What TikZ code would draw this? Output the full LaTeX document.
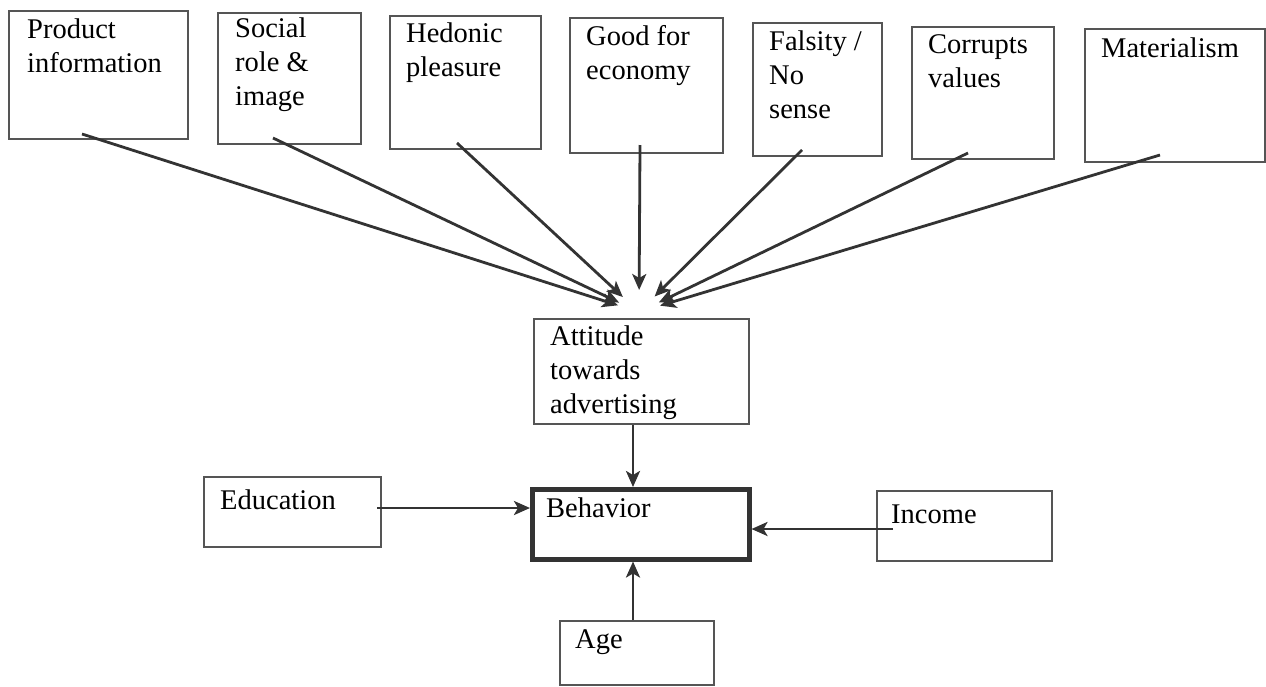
\documentclass[tikz,border=0pt]{standalone}
\usepackage{fontspec}
\setmainfont{Liberation Serif}
\usetikzlibrary{arrows.meta,calc}
\definecolor{boxc}{HTML}{555555}
\definecolor{linec}{HTML}{333333}
\begin{document}
\begin{tikzpicture}[x=1pt,y=-1pt,
  box/.style={draw=boxc, line width=1.5pt, rectangle, inner sep=0pt, anchor=north west},
  thickbox/.style={box, draw=linec, line width=4.5pt},
  txt/.style={anchor=north west, inner sep=0pt, align=left, font=\fontsize{28.5}{34}\selectfont, text=black},
  arr/.style={draw=linec, line width=2.8pt, -{Stealth[length=16pt,width=14pt,inset=4pt]}},
]
\useasboundingbox (0,0) rectangle (1266,686);
% top boxes
\node[box, minimum width=179pt, minimum height=128pt] (p1) at (8,10) {};
\node[box, minimum width=143pt, minimum height=131pt] (p2) at (217,12) {};
\node[box, minimum width=151pt, minimum height=133pt] (p3) at (389,15) {};
\node[box, minimum width=153pt, minimum height=135pt] (p4) at (569,17) {};
\node[box, minimum width=129pt, minimum height=133pt] (p5) at (752,22) {};
\node[box, minimum width=142pt, minimum height=132pt] (p6) at (911,26) {};
\node[box, minimum width=180pt, minimum height=133pt] (p7) at (1084,28) {};
% lower boxes
\node[box, minimum width=215pt, minimum height=105pt] (att) at (533,318) {};
\node[thickbox, minimum width=217pt, minimum height=70pt] (beh) at (530,487) {};
\node[box, minimum width=177pt, minimum height=70pt] (edu) at (203,476) {};
\node[box, minimum width=175pt, minimum height=70pt] (inc) at (876,490) {};
\node[box, minimum width=154pt, minimum height=64pt] (age) at (559,620) {};
% texts
\node[txt] (t1) at (27,14.2) {\strut Product\\information};
\node[txt] (t2) at (235,13.2) {\strut Social\\role \&\\image};
\node[txt] (t3) at (406,18.2) {\strut Hedonic\\pleasure};
\node[txt] (t4) at (586,21.2) {\strut Good for\\economy};
\node[txt] (t5) at (769,26.2) {\strut Falsity /\\No\\sense};
\node[txt] (t6) at (928,29.2) {\strut Corrupts\\values};
\node[txt] (t7) at (1101,33.2) {\strut Materialism};
\node[txt] (ta) at (550,321.2) {\strut Attitude\\towards\\advertising};
\node[txt] (tb) at (546,493.2) {\strut Behavior};
\node[txt] (te) at (220,485.2) {\strut Education};
\node[txt] (ti) at (891,499.2) {\strut Income};
\node[txt] (tg) at (575,624.2) {\strut Age};
% arrow sources
\coordinate (s1) at (82,134);
\coordinate (s2) at (273,138);
\coordinate (s3) at (457,143);
\coordinate (s4) at (640,145);
\coordinate (s5) at (802,150);
\coordinate (s6) at (968,153);
\coordinate (s7) at (1160,155);
\coordinate (c) at (639,312);
\foreach \s in {s1,s2,s3,s4,s5,s6,s7}
  \draw[arr] (\s) -- ($(c)!22pt!(\s)$);
% bottom arrows
\coordinate (ax) at (633,0);
\coordinate (ec) at (377,508);
\coordinate (ic) at (893,529);
\draw[arr] (att.south -| ax) -- (beh.north -| ax);
\draw[arr] (ec) -- (beh.west |- ec);
\draw[arr] (ic) -- (beh.east |- ic);
\draw[arr] (age.north -| ax) -- (beh.south -| ax);
\end{tikzpicture}
\end{document}
